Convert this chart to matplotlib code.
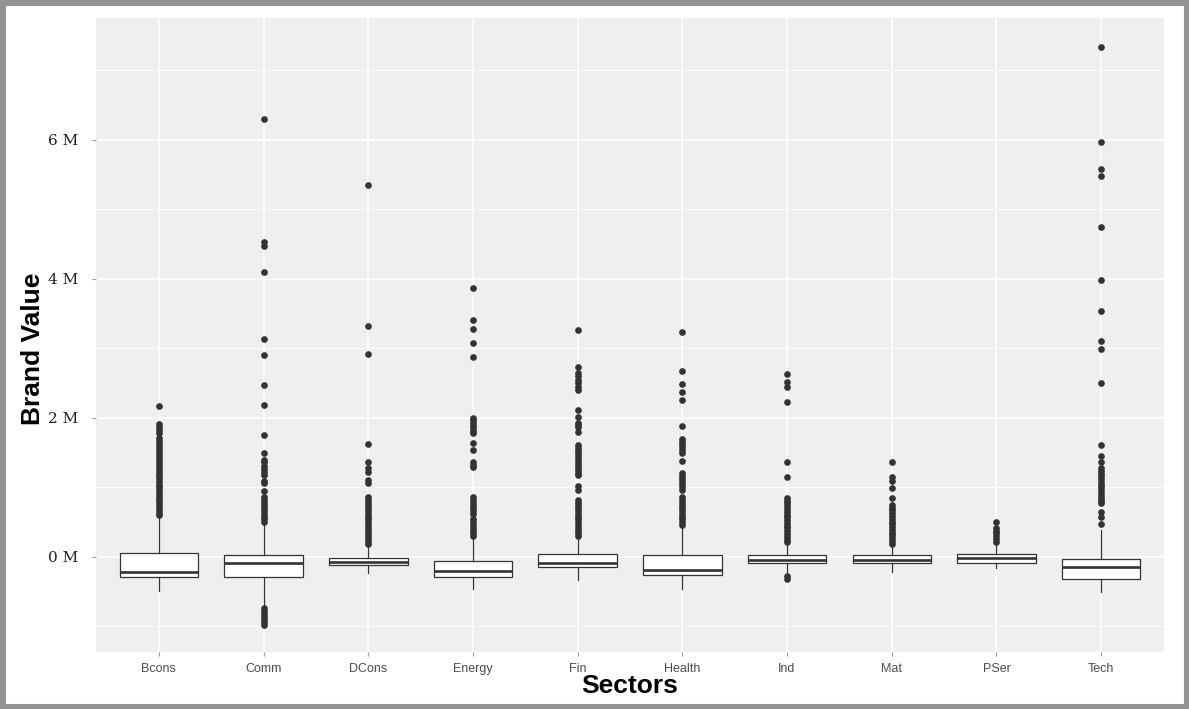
import matplotlib.pyplot as plt
from matplotlib.patches import Rectangle
from matplotlib.ticker import FixedLocator, FuncFormatter

# Brand value by sector (millions), summary stats per box
sectors = ["Bcons", "Comm", "DCons", "Energy", "Fin", "Health", "Ind", "Mat", "PSer", "Tech"]
q1 = [-0.29, -0.29, -0.12, -0.29, -0.14, -0.26, -0.09, -0.09, -0.09, -0.32]
med = [-0.22, -0.09, -0.07, -0.20, -0.09, -0.19, -0.05, -0.05, -0.01, -0.14]
q3 = [0.06, 0.03, -0.01, -0.06, 0.04, 0.03, 0.03, 0.03, 0.04, -0.03]
whis_lo = [-0.49, -0.72, -0.23, -0.46, -0.33, -0.46, -0.21, -0.21, -0.16, -0.50]
whis_hi = [0.58, 0.49, 0.14, 0.27, 0.27, 0.43, 0.20, 0.15, 0.17, 0.39]

out_bcons = [2.17, 1.91, 1.87, 1.83, 1.78, 1.71, 1.67, 1.63, 1.58, 1.54, 1.50, 1.46,
             1.41, 1.37, 1.33, 1.28, 1.24, 1.20, 1.16, 1.12, 1.08, 1.04, 1.00, 0.96,
             0.92, 0.88, 0.84, 0.80, 0.76, 0.72, 0.68, 0.64, 0.60]
out_comm = [6.30, 4.53, 4.47, 4.10, 3.14, 2.91, 2.47, 2.19, 1.75, 1.50, 1.40, 1.36,
            1.31, 1.27, 1.22, 1.18, 1.09, 1.06, 0.95, 0.86, 0.82, 0.78, 0.74, 0.70,
            0.66, 0.62, 0.58, 0.54, 0.50,
            -0.74, -0.78, -0.82, -0.86, -0.90, -0.94, -0.98]
out_dcons = [5.35, 3.32, 2.92, 1.63, 1.37, 1.28, 1.22, 1.11, 1.06, 0.86, 0.82, 0.78,
             0.74, 0.70, 0.66, 0.62, 0.58, 0.54, 0.50, 0.46, 0.42, 0.38, 0.34, 0.30,
             0.26, 0.22, 0.18]
out_energy = [3.87, 3.41, 3.28, 3.08, 2.88, 2.00, 1.97, 1.93, 1.89, 1.85, 1.81, 1.78,
              1.64, 1.54, 1.37, 1.33, 1.30, 0.86, 0.82, 0.78, 0.74, 0.70, 0.66, 0.62,
              0.54, 0.50, 0.46, 0.42, 0.38, 0.34, 0.30]
out_fin = [3.27, 2.73, 2.65, 2.60, 2.55, 2.50, 2.45, 2.40, 2.12, 2.02, 1.93, 1.90,
           1.87, 1.80, 1.61, 1.57, 1.53, 1.49, 1.45, 1.41, 1.37, 1.33, 1.29, 1.25,
           1.21, 1.18, 1.02, 0.96, 0.82, 0.78, 0.74, 0.70, 0.66, 0.62, 0.58, 0.54,
           0.50, 0.46, 0.42, 0.38, 0.34, 0.30]
out_health = [3.24, 2.68, 2.49, 2.37, 2.26, 1.89, 1.70, 1.66, 1.62, 1.58, 1.54, 1.50,
              1.38, 1.21, 1.17, 1.13, 1.09, 1.05, 1.00, 0.96, 0.86, 0.82, 0.78, 0.74,
              0.70, 0.66, 0.62, 0.58, 0.54, 0.50, 0.46]
out_ind = [2.63, 2.52, 2.45, 2.23, 1.37, 1.15, 0.85, 0.81, 0.77, 0.73, 0.69, 0.65,
           0.61, 0.57, 0.53, 0.49, 0.45, 0.41, 0.37, 0.33, 0.29, 0.25, 0.22,
           -0.28, -0.32]
out_mat = [1.36, 1.15, 1.09, 0.99, 0.85, 0.75, 0.71, 0.67, 0.63, 0.59, 0.55, 0.51,
           0.47, 0.43, 0.39, 0.35, 0.31, 0.27, 0.23, 0.19]
out_pser = [0.50, 0.42, 0.38, 0.34, 0.30, 0.26, 0.22]
out_tech = [7.34, 5.97, 5.58, 5.48, 4.75, 3.99, 3.54, 3.11, 2.99, 2.51, 1.61, 1.46,
            1.36, 1.28, 1.24, 1.20, 1.16, 1.12, 1.08, 1.04, 1.00, 0.96, 0.92, 0.88,
            0.84, 0.80, 0.77, 0.65, 0.58, 0.47]
outliers = [out_bcons, out_comm, out_dcons, out_energy, out_fin, out_health,
            out_ind, out_mat, out_pser, out_tech]

stats = []
for i in range(len(sectors)):
    stats.append(dict(med=med[i], q1=q1[i], q3=q3[i], whislo=whis_lo[i],
                      whishi=whis_hi[i], fliers=outliers[i]))

fig = plt.figure(figsize=(11.89, 7.09), dpi=100)
ax = fig.add_axes([96 / 1189, 1 - 652 / 709, (1164 - 96) / 1189, (652 - 18) / 709])
ax.set_facecolor("#EEEFF1")

pos = list(range(1, len(sectors) + 1))
ax.bxp(stats, positions=pos, widths=0.75, showcaps=False, patch_artist=True,
       boxprops=dict(facecolor="white", edgecolor="#333333", linewidth=0.9),
       medianprops=dict(color="#333333", linewidth=1.9),
       whiskerprops=dict(color="#333333", linewidth=0.9),
       flierprops=dict(marker="o", markersize=3.8, markerfacecolor="#333333",
                       markeredgecolor="#333333"))

ax.set_xlim(0.4, 10.6)
ax.set_ylim(-1.367, 7.755)

# ggplot-like grid
ax.yaxis.set_major_locator(FixedLocator([0, 2, 4, 6]))
ax.yaxis.set_minor_locator(FixedLocator([-1, 1, 3, 5, 7]))
ax.yaxis.set_major_formatter(FuncFormatter(lambda v, p: "%d M" % v))
ax.grid(which="major", color="white", linewidth=1.1)
ax.grid(which="minor", axis="y", color="white", linewidth=0.6)
ax.set_axisbelow(True)
for s in ax.spines.values():
    s.set_visible(False)

ax.set_xticks(pos)
ax.set_xticklabels(sectors, fontfamily="Liberation Sans", fontsize=9, color="#4D4D4D")
ax.tick_params(axis="x", length=3, color="#999999", pad=5)
ax.tick_params(axis="y", which="major", length=3, color="#999999", pad=10)
ax.tick_params(axis="y", which="minor", length=0)
for t in ax.get_yticklabels():
    t.set_fontfamily("DejaVu Serif")
    t.set_fontsize(11)
    t.set_color("#222222")

fig.text(0.5294, 1 - 686 / 709, "Sectors", ha="center", va="center",
         fontfamily="Liberation Sans", fontweight="bold", fontsize=19)
fig.text(33 / 1189, 1 - 349 / 709, "Brand Value", ha="center", va="center",
         rotation=90, fontfamily="Liberation Sans", fontweight="bold", fontsize=19)

# gray frame round the whole figure
fig.patches.append(Rectangle((0, 0), 1, 1, transform=fig.transFigure, fill=False,
                             edgecolor="#939393", linewidth=8))

fig.savefig("out.png", dpi=100)
